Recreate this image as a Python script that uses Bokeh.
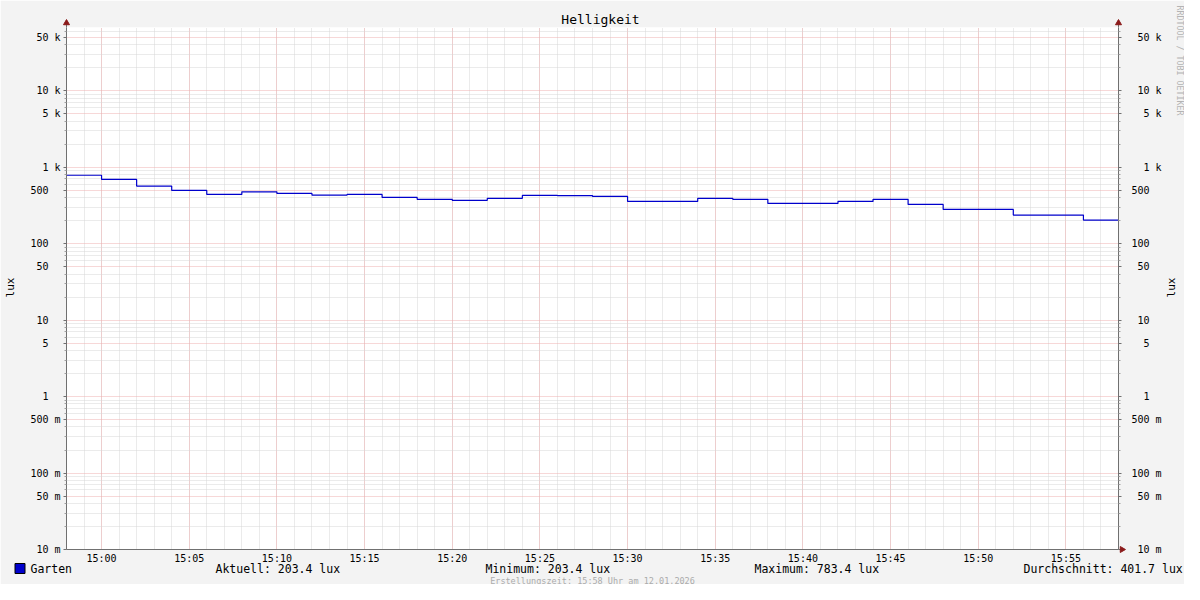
import datetime as dt
import math
from bokeh.plotting import figure
from bokeh.models import (Range1d, FixedTicker, LogAxis, DatetimeTickFormatter,
                          CustomJSTickFormatter, ColumnDataSource)
from bokeh.core.properties import value
from bokeh.embed import file_html
from bokeh.resources import INLINE

# ---------------- data ----------------
title_text = "Helligkeit"
series_name = "Garten"
unit = "lux"
start_time = dt.datetime(2026, 1, 12, 14, 58)
end_time = dt.datetime(2026, 1, 12, 15, 58)
step_minutes = 2
values = [783.4, 690, 565, 496, 440, 475, 453, 431, 440, 402,
          379, 368, 391, 427, 425, 414, 356, 356, 391, 379,
          335, 335, 356, 379, 325, 280, 280, 236, 236, 203.4]
stat_names = ["Aktuell", "Minimum", "Maximum", "Durchschnitt"]
stat_values = [203.4, 203.4, 783.4, 401.7]
footer_text = "Erstellungszeit: 15:58 Uhr am 12.01.2026"
watermark = "RRDTOOL / TOBI OETIKER"
y_major = [0.01, 0.05, 0.1, 0.5, 1, 5, 10, 50, 100, 500, 1000, 5000, 10000, 50000]
y_min, y_max = 0.01, 67000

# ---------------- layout (page pixels) ----------------
W, H = 1184, 584
FL, FR, FT, FB = 66, 1118, 27, 549   # frame edges

# ---------------- derived ----------------
xs = [start_time + dt.timedelta(minutes=step_minutes * i) for i in range(len(values) + 1)]
ys = values + [values[-1]]

epoch = dt.datetime(1970, 1, 1)
def ms(t):
    return (t - epoch).total_seconds() * 1000.0

x_major = [ms(start_time + dt.timedelta(minutes=m)) for m in range(2, 61, 5)]
x_minor = [ms(start_time + dt.timedelta(minutes=m)) for m in range(0, 61)]
y_minor = []
for e in range(-2, 5):
    for k in (2, 3, 4, 6, 7, 8, 9):
        v = k * 10.0 ** e
        if v < y_max:
            y_minor.append(v)

# pixel -> data helpers, for placing decorations outside the frame
def x_at(X):
    return start_time + (end_time - start_time) * ((X - FL) / (FR - FL))

def y_at(Y):
    lo, hi = math.log10(y_min), math.log10(y_max)
    return 10 ** (lo + (FB - Y) / (FB - FT) * (hi - lo))

FONT = "DejaVu Sans Mono"
AXIS = "#707070"
ARROW = "#8b1a1a"

p = figure(width=W, height=H, x_axis_type="datetime", y_axis_type="log",
           x_range=Range1d(start_time, end_time), y_range=Range1d(y_min, y_max),
           output_backend="svg", toolbar_location=None, title=None,
           min_border_left=FL, min_border_right=W - FR, min_border_top=FT,
           min_border_bottom=H - FB,
           background_fill_color="white", border_fill_color="#f3f3f3",
           outline_line_color=None)

p.step(xs, ys, mode="after", line_color="#0000cc", line_width=1.2)

# x axis
p.xaxis.ticker = FixedTicker(ticks=x_major, minor_ticks=x_minor)
p.xaxis.formatter = DatetimeTickFormatter(seconds="%H:%M", minsec="%H:%M", minutes="%H:%M",
                                          hourmin="%H:%M", hours="%H:%M", days="%H:%M",
                                          context=None)
p.xaxis.major_tick_out = 0
p.xaxis.major_tick_in = 0
p.xaxis.minor_tick_out = 0
p.xaxis.minor_tick_in = 0
p.xaxis.major_label_standoff = 3

# y axes
yt = FixedTicker(ticks=y_major, minor_ticks=y_minor)
fmt = CustomJSTickFormatter(code="""
    let n, suf;
    if (tick >= 1000) { n = tick / 1000; suf = 'k'; }
    else if (tick >= 1) { n = tick; suf = '\\u00a0'; }
    else { n = tick * 1000; suf = 'm'; }
    let s = Math.round(n).toString();
    while (s.length < 3) { s = '\\u00a0' + s; }
    return s + '\\u00a0' + suf;
""")
left = p.yaxis[0]
left.ticker = yt
left.formatter = fmt
right = LogAxis(ticker=yt, formatter=fmt)
p.add_layout(right, "right")

for ax in p.axis:
    ax.axis_line_color = AXIS
    ax.major_tick_line_color = AXIS
    ax.minor_tick_line_color = "#a0a0a0"
    ax.major_label_text_font = FONT
    ax.major_label_text_font_size = "10px"
    ax.major_label_text_color = "#000000"

for ax, standoff in ((left, 3), (right, 10)):
    ax.major_tick_out = 3
    ax.major_tick_in = 0
    ax.minor_tick_out = 2
    ax.minor_tick_in = 0
    ax.major_label_standoff = standoff

for g in (p.xgrid, p.ygrid):
    g.grid_line_color = "#eeb0b0"
    g.grid_line_dash = "1 1"
    g.minor_grid_line_color = "#d6d6d6"
    g.minor_grid_line_dash = "1 1"
p.ygrid.ticker = yt

# axis extensions and arrow heads
p.segment(x0=[x_at(FL), x_at(FR), x_at(FR)], y0=[y_max, y_max, y_min],
          x1=[x_at(FL), x_at(FR), x_at(FR + 3)], y1=[y_at(23), y_at(23), y_min],
          line_color=AXIS, line_width=1, level="overlay")
p.scatter([x_at(FL), x_at(FR)], [y_at(22.5), y_at(22.5)], marker="triangle", size=6,
          fill_color=ARROW, line_color=ARROW, level="overlay")
p.scatter([x_at(FR + 3.5)], [y_at(FB)], marker="triangle", angle=-math.pi / 2, size=6,
          fill_color=ARROW, line_color=ARROW, level="overlay")

def txt(text, X, Y, size, align="left", color="#000000", angle=0.0):
    p.text([x_at(X)], [y_at(Y)], text=[text], angle=angle,
           text_font=value(FONT), text_font_size=size, text_align=align,
           text_baseline="middle", text_color=color, level="overlay")

# title, axis labels, watermark
txt(title_text, 600, 19, "13px", align="center")
txt(unit, 10, 287, "11px", align="center", angle=math.pi / 2)
txt(unit, 1171, 287, "11px", align="center", angle=math.pi / 2)
txt(watermark, 1179, 5, "8.3px", align="left", color="#b4b4b4", angle=-math.pi / 2)

# legend row
ROW = 568
# the second, invisible point only widens the renderer's drawing window past the frame
sw = ColumnDataSource(dict(x=[x_at(19.5), x_at(19.5)], y=[y_at(ROW), y_at(ROW)],
                           size=[10, 140], alpha=[1.0, 0.0]))
p.scatter("x", "y", source=sw, marker="square", size="size", fill_color="#0000cc",
          fill_alpha="alpha", line_alpha="alpha", line_color="#000000", line_width=1,
          level="overlay")
txt(series_name, 30, ROW, "11.5px")
stat_x = [215, 485, 754, 1023]
for name, val, X in zip(stat_names, stat_values, stat_x):
    txt(f"{name}: {val:.1f} {unit}", X, ROW, "11.5px")

# footer
txt(footer_text, 592, 580, "8.5px", align="center", color="#ababab")

open("out.html", "w").write(file_html(p, INLINE))
